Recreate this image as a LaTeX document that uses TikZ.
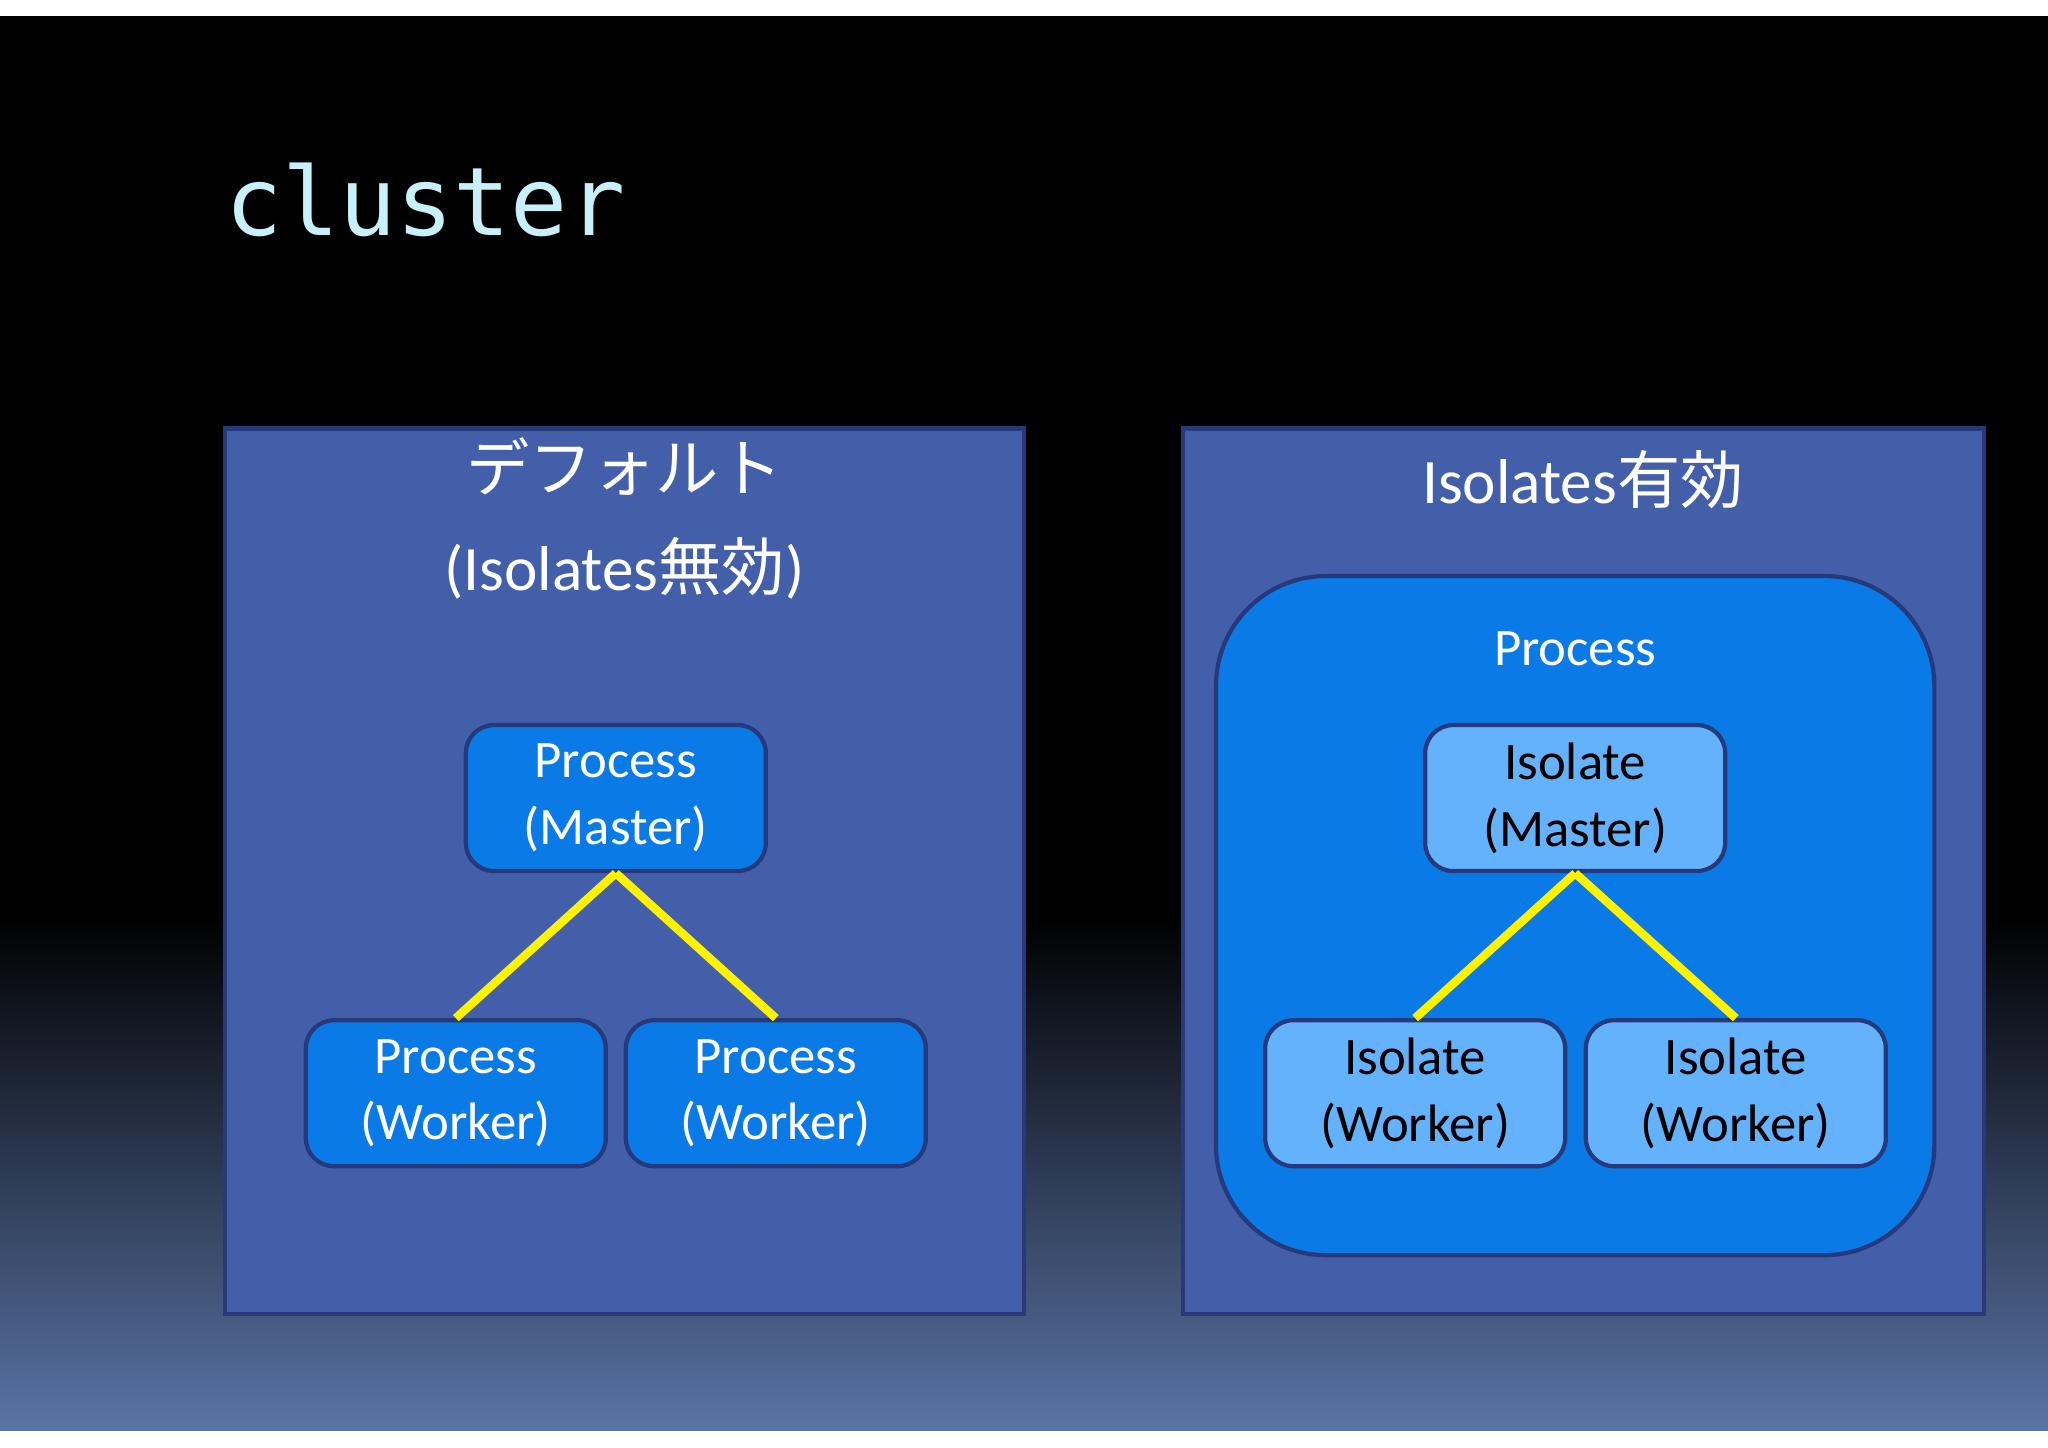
\documentclass[tikz,border=0pt]{standalone}
\usepackage{fontspec}
\setmainfont{Carlito}
\newfontfamily\cjk{Noto Sans CJK JP}
\newfontfamily\codefont{DejaVu Sans Mono}
\usetikzlibrary{positioning,calc}
\definecolor{panelblue}{HTML}{435FAA}
\definecolor{edgeblue}{HTML}{26397A}
\definecolor{procblue}{HTML}{0A7BE6}
\definecolor{isoblue}{HTML}{64B2FC}
\definecolor{bottomblue}{HTML}{5A74A6}
\definecolor{titlecyan}{HTML}{C8F0F8}
\tikzset{
  panel/.style={draw=edgeblue,line width=1.2pt,fill=panelblue},
  proc/.style={draw=edgeblue,line width=1.2pt,fill=procblue,rounded corners=8pt,
    minimum width=3.0cm,minimum height=1.46cm,text=white,align=center,
    font=\fontsize{15}{19}\selectfont},
  iso/.style={proc,fill=isoblue,text=black},
  link/.style={yellow,line width=2.4pt},
  caption/.style={text=white,align=center,font=\fontsize{18}{28}\selectfont}
}
\begin{document}
\begin{tikzpicture}[x=0.013061cm,y=-0.013061cm]
  \useasboundingbox (0,0) rectangle (1568,1108);
  % background
  \fill[white] (0,0) rectangle (1568,1108);
  \fill[black] (0,12) rectangle (1568,701);
  \shade[top color=black,bottom color=bottomblue] (0,700) rectangle (1568,1095);
  \node[anchor=base west,text=titlecyan,font=\codefont\fontsize{27}{30}\selectfont,inner sep=0]
    (title) at (172,180) {cluster};

  % left panel
  \draw[panel] (172,328) rectangle (784,1006);
  \node[caption] (ltitle) at (478,397) {{\cjk デフォルト}\\({Isolates}{\cjk 無効})};
  \node[proc] (pm) at (471.5,611) {Process\\(Master)};
  \node[proc] (pw1) at (349,837) {Process\\(Worker)};
  \node[proc] (pw2) at (594,837) {Process\\(Worker)};
  \draw[link] (pm.south) -- (pw1.north);
  \draw[link] (pm.south) -- (pw2.north);

  % right panel
  \draw[panel] (906,328) rectangle (1519,1006);
  \node[caption] (rtitle) at (1212,367) {Isolates{\cjk 有効}};
  \draw[draw=edgeblue,line width=1.2pt,fill=procblue,rounded corners=1.1cm]
    (931,441) rectangle (1481,961);
  \node[text=white,font=\fontsize{15}{19}\selectfont] (plabel) at (1206,497) {Process};
  \node[iso] (im) at (1206,611) {Isolate\\(Master)};
  \node[iso] (iw1) at (1083.5,837) {Isolate\\(Worker)};
  \node[iso] (iw2) at (1329,837) {Isolate\\(Worker)};
  \draw[link] (im.south) -- (iw1.north);
  \draw[link] (im.south) -- (iw2.north);
\end{tikzpicture}
\end{document}
